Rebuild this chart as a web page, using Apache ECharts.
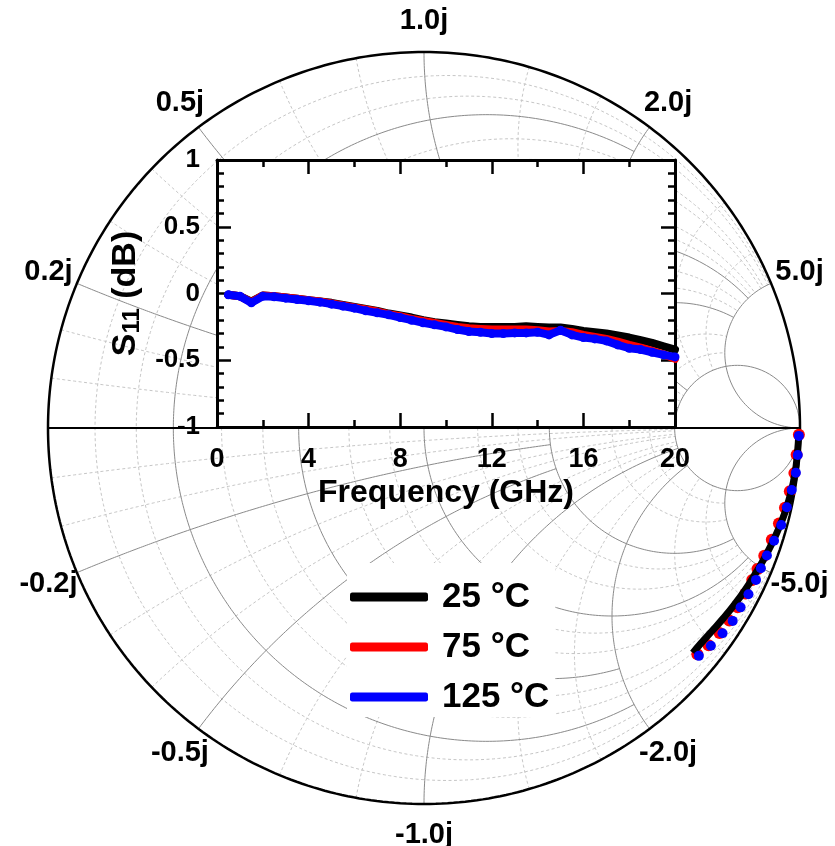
<!DOCTYPE html>
<html><head><meta charset="utf-8">
<script src="https://cdn.jsdelivr.net/npm/echarts@6.0.0/dist/echarts.min.js"></script>
<style>html,body{margin:0;padding:0;background:#fff}#c{width:835px;height:846px}</style>
</head><body><div id="c"></div>
<script>
// ---------- inset data: S11 magnitude (dB) vs frequency ----------
const freqGHz = [0.5,1.0,1.5,2.0,2.5,3.0,3.5,4.0,4.5,5.0,5.5,6.0,6.5,7.0,7.5,8.0,8.5,9.0,9.5,10.0,
                 10.5,11.0,11.5,12.0,12.5,13.0,13.5,14.0,14.5,15.0,15.5,16.0,16.5,17.0,17.5,18.0,18.5,19.0,19.5,20.0];
const s11dB_25  = [-0.01,-0.02,-0.06,-0.015,-0.02,-0.03,-0.04,-0.05,-0.06,-0.07,-0.085,-0.10,-0.115,-0.13,-0.15,-0.165,-0.18,-0.20,-0.215,-0.225,
                   -0.235,-0.245,-0.25,-0.25,-0.25,-0.25,-0.245,-0.25,-0.255,-0.255,-0.265,-0.28,-0.29,-0.30,-0.315,-0.33,-0.35,-0.37,-0.395,-0.42];
const s11dB_75  = [-0.01,-0.02,-0.065,-0.015,-0.02,-0.03,-0.04,-0.05,-0.06,-0.075,-0.09,-0.105,-0.12,-0.135,-0.155,-0.17,-0.19,-0.205,-0.22,-0.235,
                   -0.25,-0.26,-0.265,-0.27,-0.27,-0.27,-0.27,-0.275,-0.285,-0.28,-0.29,-0.31,-0.325,-0.34,-0.36,-0.385,-0.405,-0.43,-0.455,-0.49];
const s11dB_125 = [-0.01,-0.02,-0.07,-0.02,-0.025,-0.035,-0.045,-0.055,-0.065,-0.08,-0.095,-0.11,-0.13,-0.145,-0.16,-0.18,-0.2,-0.22,-0.235,-0.25,
                   -0.27,-0.285,-0.29,-0.30,-0.30,-0.295,-0.295,-0.29,-0.31,-0.275,-0.31,-0.33,-0.34,-0.355,-0.385,-0.41,-0.42,-0.44,-0.46,-0.475];

// ---------- Smith chart data: reflection coefficient (real, imaginary) ----------
const gammaRe25  = [0.997,0.993,0.986,0.975,0.961,0.944,0.924,0.902,0.878,0.853,0.826,0.797,0.766,0.737,0.715];
const gammaIm25  = [-0.010,-0.070,-0.125,-0.175,-0.222,-0.266,-0.310,-0.352,-0.393,-0.432,-0.469,-0.505,-0.540,-0.572,-0.598];
const gammaRe75  = [0.997,0.991,0.985,0.973,0.960,0.944,0.925,0.905,0.887,0.873,0.855,0.834,0.812,0.786,0.757,0.727];
const gammaIm75  = [-0.018,-0.071,-0.120,-0.168,-0.212,-0.254,-0.297,-0.340,-0.375,-0.404,-0.440,-0.477,-0.512,-0.545,-0.578,-0.602];
const gammaRe125 = [0.997,0.994,0.989,0.978,0.965,0.950,0.931,0.912,0.896,0.883,0.863,0.842,0.821,0.794,0.763,0.731];
const gammaIm125 = [-0.021,-0.072,-0.119,-0.165,-0.211,-0.258,-0.300,-0.339,-0.373,-0.404,-0.442,-0.477,-0.513,-0.546,-0.579,-0.606];

// ---------- Smith grid values & labels ----------
// [value, clip limit of the other coordinate]  (Infinity = drawn to the open-circuit point)
const majorR = [[0.2, 2], [0.5, 2], [1, 5], [2, 5], [5, Infinity]];
const majorX = [[0.2, 2], [0.5, 2], [1, 5], [2, 5], [5, Infinity],
                [-0.2, 2], [-0.5, 2], [-1, 5], [-2, 5], [-5, Infinity]];
const minorR = [[0.0667, 5], [0.133, 5], [0.3, 5], [0.4, 5], [0.667, 5], [0.833, 5], [1.333, 5], [1.667, 5], [3, 5], [4, 5]];
const minorX = [[0.0667, 5], [0.133, 5], [0.3, 5], [0.4, 5], [0.667, 5], [0.833, 5], [1.333, 5], [1.667, 5], [3, 5], [4, 5],
                [-0.0667, 5], [-0.133, 5], [-0.3, 5], [-0.4, 5], [-0.667, 5], [-0.833, 5], [-1.333, 5], [-1.667, 5], [-3, 5], [-4, 5]];
const reactanceLabels = [0.2, 0.5, 1, 2, 5, -0.2, -0.5, -1, -2, -5];
const seriesNames = ['25 \u00B0C', '75 \u00B0C', '125 \u00B0C'];
const seriesColors = ['#000000', '#ff0000', '#0000ff'];

const FONT = '"Liberation Sans", Arial, Helvetica, sans-serif';

function zToGamma(r, x) {
  const d = (r + 1) * (r + 1) + x * x;
  return [(r * r + x * x - 1) / d, 2 * x / d];
}
// resistance circle r, drawn for |x| <= xLim
function rCircle(r, xLim) {
  const pts = [], N = 400, a = Math.atan(xLim);
  for (let i = 0; i <= N; i++) {
    const phi = -a + 2 * a * i / N;
    if (Math.abs(phi) >= Math.PI / 2 - 1e-9) { pts.push([1, 0]); continue; }
    pts.push(zToGamma(r, Math.tan(phi)));
  }
  return pts;
}
// reactance arc x, drawn for 0 <= r <= rLim
function xArc(x, rLim) {
  const pts = [], N = 300, a = Math.atan(rLim);
  for (let i = 0; i <= N; i++) {
    const th = a * i / N;
    if (th >= Math.PI / 2 - 1e-9) { pts.push([1, 0]); continue; }
    pts.push(zToGamma(Math.tan(th), x));
  }
  return pts;
}
function gridSeries(pts, major) {
  return {
    type: 'line', xAxisIndex: 0, yAxisIndex: 0, data: pts, showSymbol: false, silent: true,
    clip: false, z: major ? 1.5 : 1, animation: false,
    lineStyle: major ? { color: '#8a8a8a', width: 1 } : { color: '#c6c6c6', width: 1, type: [3, 2.5] }
  };
}

const series = [];
minorR.forEach(([r, lim]) => series.push(gridSeries(rCircle(r, lim), false)));
minorX.forEach(([x, lim]) => series.push(gridSeries(xArc(x, lim), false)));
majorR.forEach(([r, lim]) => series.push(gridSeries(rCircle(r, lim), true)));
majorX.forEach(([x, lim]) => series.push(gridSeries(xArc(x, lim), true)));
// outer circle and real axis
series.push({ type: 'line', xAxisIndex: 0, yAxisIndex: 0, data: rCircle(0, Infinity), showSymbol: false, silent: true,
  clip: false, z: 2, lineStyle: { color: '#000', width: 2.5 } });
series.push({ type: 'line', xAxisIndex: 0, yAxisIndex: 0, data: [[-1, 0], [1, 0]], showSymbol: false, silent: true,
  clip: false, z: 2, lineStyle: { color: '#000', width: 2 } });

// reactance labels around the rim
series.push({
  type: 'scatter', xAxisIndex: 0, yAxisIndex: 0, clip: false, silent: true, symbolSize: 0, z: 3,
  itemStyle: { opacity: 1 },
  data: reactanceLabels.map(x => {
    const g = zToGamma(0, x), k = 1.082;
    return { name: x.toFixed(1) + 'j', value: [g[0] * k, g[1] * k] };
  }),
  label: { show: true, position: 'inside', formatter: '{b}', color: '#000', fontSize: 29, fontWeight: 'bold', fontFamily: FONT, opacity: 1 }
});

// Smith data
const toPts = (re, im) => re.map((v, i) => [v, im[i]]);
series.push({ name: seriesNames[1], type: 'scatter', xAxisIndex: 0, yAxisIndex: 0, clip: false, z: 3,
  data: toPts(gammaRe75, gammaIm75), symbol: 'circle', symbolSize: 12, itemStyle: { color: seriesColors[1], opacity: 1 } });
series.push({ name: seriesNames[0], type: 'line', xAxisIndex: 0, yAxisIndex: 0, clip: false, z: 3.5,
  data: toPts(gammaRe25, gammaIm25), showSymbol: false, smooth: true,
  itemStyle: { color: seriesColors[0] }, lineStyle: { color: seriesColors[0], width: 7 } });
series.push({ name: seriesNames[2], type: 'scatter', xAxisIndex: 0, yAxisIndex: 0, clip: false, z: 3.8,
  data: toPts(gammaRe125, gammaIm125), symbol: 'circle', symbolSize: 10, itemStyle: { color: seriesColors[2], opacity: 1 } });

// inset lines
[s11dB_25, s11dB_75, s11dB_125].forEach((arr, k) => {
  series.push({
    name: seriesNames[k], type: 'line', xAxisIndex: 1, yAxisIndex: 1, z: 6,
    data: freqGHz.map((f, i) => [f, arr[i]]),
    showSymbol: k === 2, symbol: 'circle', symbolSize: 9,
    itemStyle: { color: seriesColors[k], opacity: 1 },
    lineStyle: { color: seriesColors[k], width: 8, cap: 'round', join: 'round' }
  });
});

const tickStyle = { color: '#000', width: 2.5 };
const insetAxisCommon = {
  gridIndex: 1, type: 'value', z: 5,
  axisLine: { show: true, onZero: false, lineStyle: { color: '#000', width: 3 } },
  axisTick: { show: true, inside: true, length: 14, lineStyle: tickStyle },
  minorTick: { show: true, length: 7, lineStyle: tickStyle },
  splitLine: { show: false }, minorSplitLine: { show: false }
};

const option = {
  animation: false,
  backgroundColor: '#fff',
  grid: [
    { left: 48, top: 52, width: 752, height: 752, show: false },
    { left: 217, top: 160, width: 458, height: 267, show: true, backgroundColor: '#fff', borderWidth: 0, z: 4 }
  ],
  xAxis: [
    { gridIndex: 0, type: 'value', min: -1, max: 1, show: false },
    Object.assign({}, insetAxisCommon, {
      position: 'bottom', min: 0, max: 20, interval: 4,
      minorTick: Object.assign({}, insetAxisCommon.minorTick, { splitNumber: 2 }),
      axisLabel: { show: true, margin: 19, color: '#000', fontSize: 27, fontWeight: 'bold', fontFamily: FONT },
      name: 'Frequency (GHz)', nameLocation: 'middle', nameGap: 50,
      nameTextStyle: { color: '#000', fontSize: 32, fontWeight: 'bold', fontFamily: FONT }
    }),
    Object.assign({}, insetAxisCommon, {
      position: 'top', min: 0, max: 20, interval: 4,
      minorTick: Object.assign({}, insetAxisCommon.minorTick, { splitNumber: 2 }),
      axisLabel: { show: false }
    })
  ],
  yAxis: [
    { gridIndex: 0, type: 'value', min: -1, max: 1, show: false },
    Object.assign({}, insetAxisCommon, {
      position: 'left', min: -1, max: 1, interval: 0.5,
      minorTick: Object.assign({}, insetAxisCommon.minorTick, { splitNumber: 5 }),
      axisLabel: { show: true, margin: 17, color: '#000', fontSize: 26, fontWeight: 'bold', fontFamily: FONT },
      name: '{s|S}{sub|11}{s| (dB)}', nameLocation: 'middle', nameGap: 46, nameRotate: 90,
      nameTextStyle: { color: '#000', fontFamily: FONT, fontWeight: 'bold',
        rich: {
          s: { fontSize: 34, fontWeight: 'bold', fontFamily: FONT, color: '#000', lineHeight: 36 },
          sub: { fontSize: 24, fontWeight: 'bold', fontFamily: FONT, color: '#000', lineHeight: 24, padding: [14, 0, 0, 0] }
        } }
    }),
    Object.assign({}, insetAxisCommon, {
      position: 'right', min: -1, max: 1, interval: 0.5,
      minorTick: Object.assign({}, insetAxisCommon.minorTick, { splitNumber: 5 }),
      axisLabel: { show: false }
    })
  ],
  legend: {
    data: seriesNames, orient: 'vertical', left: 347, top: 563,
    icon: 'roundRect', itemWidth: 78, itemHeight: 9, itemGap: 14, itemTextGap: 14,
    backgroundColor: '#fff', padding: [16, 6, 2, 3], z: 10, selectedMode: false,
    itemStyle: { opacity: 1 },
    textStyle: { color: '#000', fontSize: 35, fontWeight: 'bold', fontFamily: FONT, lineHeight: 36, padding: [0, 0, 0, 9] }
  },
  series: series
};

const chart = echarts.init(document.getElementById('c'), null, { renderer: 'canvas' });
chart.setOption(option);
</script>
</body></html>
